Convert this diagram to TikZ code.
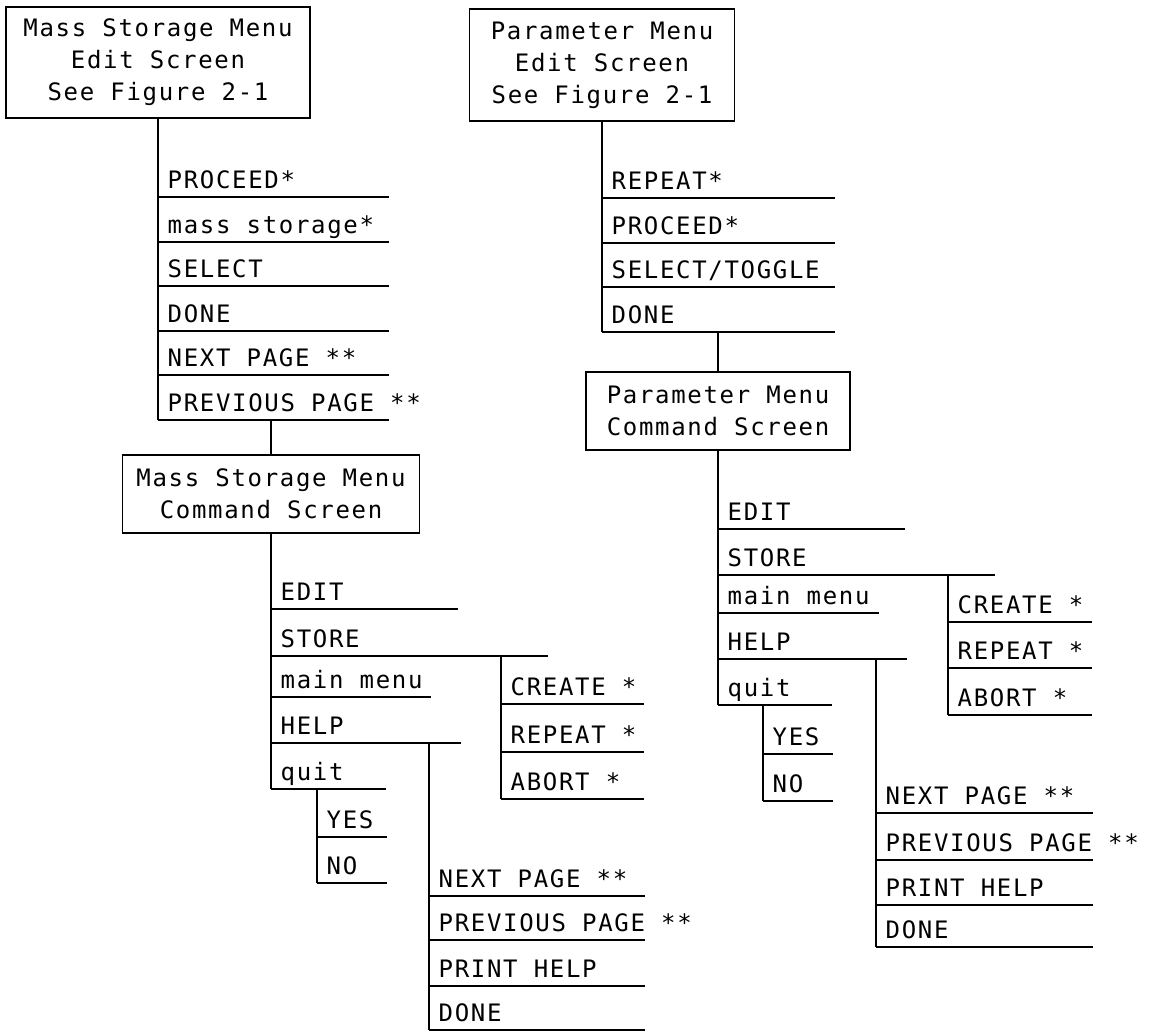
\documentclass[tikz,border=0pt]{standalone}
\usepackage{fontspec}
\newfontfamily\plotfont[LetterSpace=7]{DejaVu Sans Mono}

\begin{document}
\begin{tikzpicture}[x=0.5pt,y=-0.5pt,line width=0.7pt,
		screen/.style={draw,align=center,inner sep=0pt,font=\plotfont\fontsize{12}{16}\selectfont},
		item/.style={anchor=south west,inner xsep=4.5pt,inner ysep=4pt,text depth=0pt,font=\plotfont\fontsize{12}{14}\selectfont}]
	\useasboundingbox (0,0) rectangle (1150,1032);
	% mass storage menu
	\node[screen,minimum width=152pt,minimum height=55.5pt] (msedit) at (158,62.5) {Mass Storage Menu\\Edit Screen\\See Figure 2-1};
	\foreach \t/\y [count=\i] in {PROCEED*/197, mass storage*/242, SELECT/286, DONE/331, NEXT PAGE **/375, PREVIOUS PAGE **/420}{
		\node[item] (mse\i) at (158,\y) {\t};
		\draw (mse\i.south west) -- ++(231,0);
	}
	\draw (msedit.south) -- (mse6.south west);
	\node[screen,minimum width=148.5pt,minimum height=39pt] (mscmd) at (271,494) {Mass Storage Menu\\Command Screen};
	\draw (mscmd.north) -- (mscmd.north |- mse6.south);
	\foreach \t/\y/\l [count=\i] in {EDIT/609/187, STORE/656/277, main menu/697/160, HELP/743/190, quit/789/115}{
		\node[item] (msc\i) at (271,\y) {\t};
		\draw (msc\i.south west) -- ++(\l,0);
	}
	\draw (mscmd.south) -- (msc5.south west);
	\foreach \t/\y [count=\i] in {YES/837, NO/883}{
		\node[item] (msq\i) at (317,\y) {\t};
		\draw (msq\i.south west) -- ++(70,0);
	}
	\draw (msq2.south west) -- (msq2.south west |- msc5.south);
	\foreach \t/\y [count=\i] in {CREATE */704, REPEAT */752, ABORT */799}{
		\node[item] (mss\i) at (501,\y) {\t};
		\draw (mss\i.south west) -- ++(143,0);
	}
	\draw (mss3.south west) -- (mss3.south west |- msc2.south);
	\foreach \t/\y [count=\i] in {NEXT PAGE **/896, PREVIOUS PAGE **/940, PRINT HELP/986, DONE/1030}{
		\node[item] (msh\i) at (429,\y) {\t};
		\draw (msh\i.south west) -- ++(216,0);
	}
	\draw (msh4.south west) -- (msh4.south west |- msc4.south);
	% parameter menu
	\node[screen,minimum width=132.5pt,minimum height=56pt] (pmedit) at (602,65) {Parameter Menu\\Edit Screen\\See Figure 2-1};
	\foreach \t/\y [count=\i] in {REPEAT*/198, PROCEED*/243, {SELECT/TOGGLE}/287, DONE/332}{
		\node[item] (pme\i) at (602,\y) {\t};
		\draw (pme\i.south west) -- ++(233,0);
	}
	\draw (pmedit.south) -- (pme4.south west);
	\node[screen,minimum width=132pt,minimum height=39pt] (pmcmd) at (718,411) {Parameter Menu\\Command Screen};
	\draw (pmcmd.north) -- (pmcmd.north |- pme4.south);
	\foreach \t/\y/\l [count=\i] in {EDIT/529/187, STORE/575/277, main menu/613/161, HELP/659/189, quit/705/114}{
		\node[item] (pmc\i) at (718,\y) {\t};
		\draw (pmc\i.south west) -- ++(\l,0);
	}
	\draw (pmcmd.south) -- (pmc5.south west);
	\foreach \t/\y [count=\i] in {YES/754, NO/801}{
		\node[item] (pmq\i) at (763,\y) {\t};
		\draw (pmq\i.south west) -- ++(70,0);
	}
	\draw (pmq2.south west) -- (pmq2.south west |- pmc5.south);
	\foreach \t/\y [count=\i] in {CREATE */622, REPEAT */668, ABORT */715}{
		\node[item] (pms\i) at (948,\y) {\t};
		\draw (pms\i.south west) -- ++(144,0);
	}
	\draw (pms3.south west) -- (pms3.south west |- pmc2.south);
	\foreach \t/\y [count=\i] in {NEXT PAGE **/813, PREVIOUS PAGE **/860, PRINT HELP/905, DONE/947}{
		\node[item] (pmh\i) at (876,\y) {\t};
		\draw (pmh\i.south west) -- ++(217,0);
	}
	\draw (pmh4.south west) -- (pmh4.south west |- pmc4.south);
\end{tikzpicture}
\end{document}
